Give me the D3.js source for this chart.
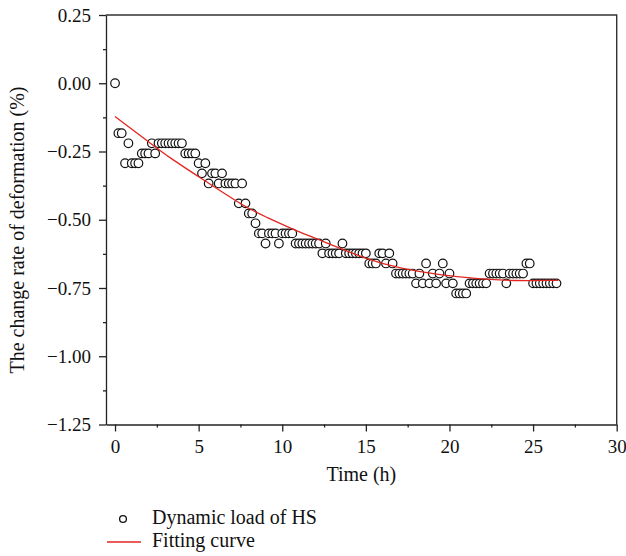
<!DOCTYPE html>
<html>
<head>
<meta charset="utf-8">
<script src="https://cdn.jsdelivr.net/npm/d3@7"></script>
<style>
  body { margin: 0; background: #fff; }
  svg text { font-family: "Liberation Serif", "Times New Roman", serif; fill: #111; }
</style>
</head>
<body>
<svg id="chart" width="626" height="556"></svg>
<script>
// measured points (time in h, change rate of deformation in %)
const timeH = [
	0, 0.2, 0.4, 0.6, 0.8, 1.0, 1.2, 1.4, 1.6, 1.8,
	2.0, 2.2, 2.4, 2.6, 2.8, 3.0, 3.2, 3.4, 3.6, 3.8,
	4.0, 4.2, 4.4, 4.6, 4.8, 5.0, 5.2, 5.4, 5.6, 5.8,
	6.0, 6.2, 6.4, 6.6, 6.8, 7.0, 7.2, 7.4, 7.6, 7.8,
	8.0, 8.2, 8.4, 8.6, 8.8, 9.0, 9.2, 9.4, 9.6, 9.8,
	10.0, 10.2, 10.4, 10.6, 10.8, 11.0, 11.2, 11.4, 11.6, 11.8,
	12.0, 12.2, 12.4, 12.6, 12.8, 13.0, 13.2, 13.4, 13.6, 13.8,
	14.0, 14.2, 14.4, 14.6, 14.8, 15.0, 15.2, 15.4, 15.6, 15.8,
	16.0, 16.2, 16.4, 16.6, 16.8, 17.0, 17.2, 17.4, 17.6, 17.8,
	18.0, 18.2, 18.4, 18.6, 18.8, 19.0, 19.2, 19.4, 19.6, 19.8,
	20.0, 20.2, 20.4, 20.6, 20.8, 21.0, 21.2, 21.4, 21.6, 21.8,
	22.0, 22.2, 22.4, 22.6, 22.8, 23.0, 23.2, 23.4, 23.6, 23.8,
	24.0, 24.2, 24.4, 24.6, 24.8, 25.0, 25.2, 25.4, 25.6, 25.8,
	26.0, 26.2, 26.4
];
const deformRate = [
	0, -0.183, -0.183, -0.293, -0.220, -0.293, -0.293, -0.293, -0.257, -0.257,
	-0.257, -0.220, -0.257, -0.220, -0.220, -0.220, -0.220, -0.220, -0.220, -0.220,
	-0.220, -0.257, -0.257, -0.257, -0.257, -0.293, -0.330, -0.293, -0.367, -0.330,
	-0.330, -0.367, -0.330, -0.367, -0.367, -0.367, -0.367, -0.440, -0.367, -0.440,
	-0.477, -0.477, -0.513, -0.550, -0.550, -0.587, -0.550, -0.550, -0.550, -0.587,
	-0.550, -0.550, -0.550, -0.550, -0.587, -0.587, -0.587, -0.587, -0.587, -0.587,
	-0.587, -0.587, -0.623, -0.587, -0.623, -0.623, -0.623, -0.623, -0.587, -0.623,
	-0.623, -0.623, -0.623, -0.623, -0.623, -0.623, -0.660, -0.660, -0.660, -0.623,
	-0.623, -0.660, -0.623, -0.660, -0.697, -0.697, -0.697, -0.697, -0.697, -0.697,
	-0.733, -0.697, -0.733, -0.660, -0.733, -0.697, -0.733, -0.697, -0.660, -0.733,
	-0.697, -0.733, -0.770, -0.770, -0.770, -0.770, -0.733, -0.733, -0.733, -0.733,
	-0.733, -0.733, -0.697, -0.697, -0.697, -0.697, -0.697, -0.733, -0.697, -0.697,
	-0.697, -0.697, -0.697, -0.660, -0.660, -0.733, -0.733, -0.733, -0.733, -0.733,
	-0.733, -0.733, -0.733
];

// fitting curve
const fitTime = [0, 2.0, 3.3, 5.3, 7.9, 9.0, 10.7, 12.0, 15.1, 17.2, 19.4, 21.8, 23.8, 26.5];
const fitRate = [-0.122, -0.214, -0.275, -0.354, -0.458, -0.489, -0.537, -0.568, -0.647, -0.680, -0.702, -0.717, -0.724, -0.722];

const xTicks = [0, 5, 10, 15, 20, 25, 30];
const yTicks = [0.25, 0, -0.25, -0.5, -0.75, -1.0, -1.25];
const legendLabels = ['Dynamic load of HS', 'Fitting curve'];

const svg = d3.select('#chart');
const plot = { left: 106, top: 15, right: 616.7, bottom: 424.5 };

const x = d3.scaleLinear().domain([-0.54, 30]).range([plot.left, plot.right]);
const y = d3.scaleLinear().domain([-1.25, 0.25]).range([plot.bottom, plot.top]);

// minor ticks first, majors on top
svg.append('g')
	.attr('transform', 'translate(0,' + plot.bottom + ')')
	.call(d3.axisBottom(x).tickValues([2.5, 7.5, 12.5, 17.5, 22.5, 27.5]).tickSize(3).tickFormat(''))
	.call(g => g.select('.domain').remove());
svg.append('g')
	.attr('transform', 'translate(' + plot.left + ',0)')
	.call(d3.axisLeft(y).tickValues([0.125, -0.125, -0.375, -0.625, -0.875, -1.125]).tickSize(3).tickFormat(''))
	.call(g => g.select('.domain').remove());

const xAxis = svg.append('g')
	.attr('transform', 'translate(0,' + plot.bottom + ')')
	.call(d3.axisBottom(x).tickValues(xTicks).tickSize(7).tickSizeOuter(0).tickPadding(8).tickFormat(d3.format('d')));
xAxis.selectAll('text').attr('font-size', 19).attr('fill', '#111');

const yAxis = svg.append('g')
	.attr('transform', 'translate(' + plot.left + ',0)')
	.call(d3.axisLeft(y).tickValues(yTicks).tickSize(7).tickSizeOuter(0).tickPadding(8).tickFormat(d3.format('.2f')));
yAxis.selectAll('text').attr('font-size', 19).attr('fill', '#111');

svg.selectAll('.domain, .tick line').attr('stroke', '#222').attr('stroke-width', 1.3);

// top and right frame
svg.append('path')
	.attr('d', 'M' + plot.left + ',' + plot.top + 'H' + plot.right + 'V' + plot.bottom)
	.attr('fill', 'none')
	.attr('stroke', '#333')
	.attr('stroke-width', 1.4);

// points
svg.append('g')
	.selectAll('circle')
	.data(timeH.map((t, i) => [t, deformRate[i]]))
	.join('circle')
	.attr('cx', d => x(d[0]))
	.attr('cy', d => y(d[1]))
	.attr('r', 4.3)
	.attr('fill', '#fff')
	.attr('stroke', '#111')
	.attr('stroke-width', 1.2);

// fitting curve
const fitLine = d3.line()
	.x(d => x(d[0]))
	.y(d => y(d[1]))
	.curve(d3.curveBasis);
svg.append('path')
	.datum(fitTime.map((t, i) => [t, fitRate[i]]))
	.attr('d', fitLine)
	.attr('fill', 'none')
	.attr('stroke', '#e3261f')
	.attr('stroke-width', 1.3);

// axis titles
svg.append('text')
	.attr('x', (plot.left + plot.right) / 2)
	.attr('y', 481)
	.attr('text-anchor', 'middle')
	.attr('font-size', 20)
	.text('Time (h)');
svg.append('text')
	.attr('transform', 'translate(24,' + 230 + ') rotate(-90)')
	.attr('text-anchor', 'middle')
	.attr('font-size', 20)
	.text('The change rate of deformation (%)');

// legend
const legend = svg.append('g');
legend.append('circle')
	.attr('cx', 123).attr('cy', 519)
	.attr('r', 3.4)
	.attr('fill', '#fff')
	.attr('stroke', '#111')
	.attr('stroke-width', 1.3);
legend.append('line')
	.attr('x1', 107).attr('x2', 141)
	.attr('y1', 542).attr('y2', 542)
	.attr('stroke', '#e3261f')
	.attr('stroke-width', 1.3);
legend.selectAll('text')
	.data(legendLabels)
	.join('text')
	.attr('x', 152)
	.attr('y', (d, i) => 524 + i * 23)
	.attr('font-size', 20)
	.text(d => d);
</script>
</body>
</html>
